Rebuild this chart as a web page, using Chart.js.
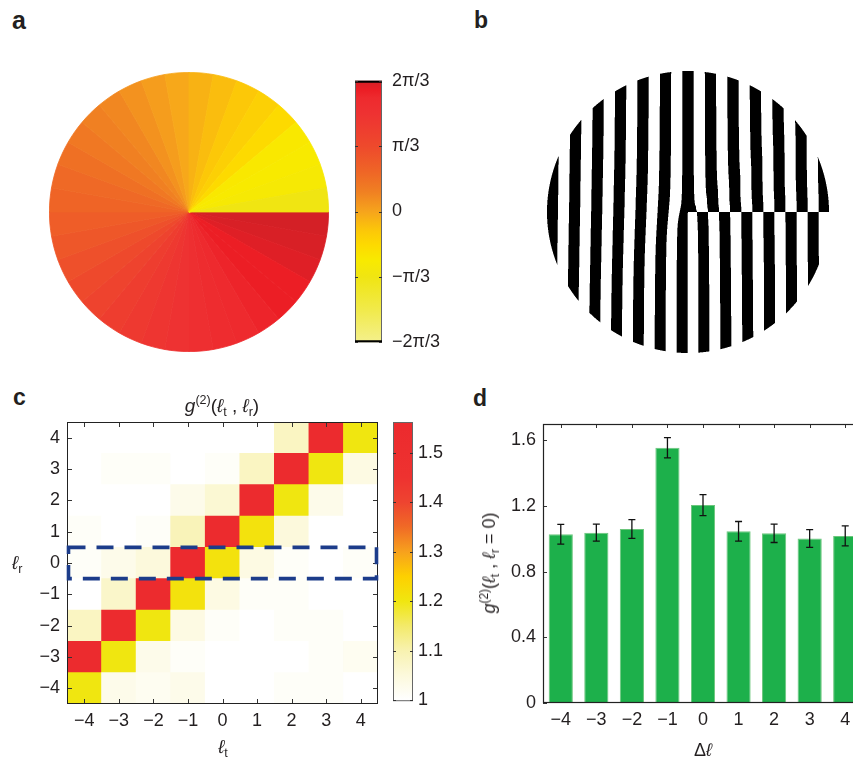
<!DOCTYPE html>
<html><head><meta charset="utf-8">
<script src="https://cdn.jsdelivr.net/npm/chart.js"></script>
<style>
html,body{margin:0;padding:0;background:#fff;width:853px;height:761px;overflow:hidden;position:relative;font-family:"Liberation Sans",Arial,sans-serif;color:#231f20}
.box{position:absolute}
.t{position:absolute;white-space:nowrap;font-size:18px;line-height:1}
.lab{position:absolute;font-weight:bold;font-size:23px;line-height:1}
sub,sup{font-size:66%;line-height:0;position:relative;vertical-align:baseline}
sup{top:-0.6em} sub{top:0.35em}
i{font-style:italic}
</style></head><body>

<div class="lab" style="left:12px;top:7.5px;font-size:25px">a</div>
<div class="lab" style="left:474px;top:9px">b</div>
<div class="lab" style="left:13px;top:386px">c</div>
<div class="lab" style="left:473px;top:387px">d</div>

<div class="box" style="left:49px;top:72px;width:280px;height:280px"><canvas id="pa"></canvas></div>
<div class="box" style="left:355px;top:60px;width:110px;height:303px"><canvas id="cba"></canvas></div>
<div class="box" style="left:547px;top:71px;width:282px;height:282px"><canvas id="pb"></canvas></div>
<div class="box" style="left:0px;top:380px;width:386px;height:360px"><canvas id="pc"></canvas></div>
<div class="box" style="left:393px;top:405px;width:52px;height:312px"><canvas id="cbc"></canvas></div>
<div class="box" style="left:490px;top:395px;width:380px;height:340px"><canvas id="pd"></canvas></div>

<div class="t" style="left:122px;top:396px;width:200px;text-align:center;font-size:19px"><i>g</i><sup>(2)</sup>(<i>ℓ</i><sub>t</sub> , <i>ℓ</i><sub>r</sub>)</div>
<div class="t" style="left:12px;top:553px;font-size:19px"><i>ℓ</i><sub>r</sub></div>
<div class="t" style="left:173px;top:737px;width:100px;text-align:center;font-size:19px"><i>ℓ</i><sub>t</sub></div>
<div class="t" style="left:653px;top:741px;width:100px;text-align:center">Δ<i>ℓ</i></div>
<div class="t" style="left:489px;top:563px;transform:translate(-50%,-50%) rotate(-90deg)"><i>g</i><sup>(2)</sup>(<i>ℓ</i><sub>t</sub> , <i>ℓ</i><sub>r</sub> = 0)</div>

<script>
// ---------------- DATA ----------------
// panel a: phase of each 10° wedge (units of π), counter-clockwise from +x axis
const wedgeSpan = [10,10,10,10,10,10,10,10,10,10,10,10,10,10,10,10,10,10,10,10,10,10,10,10,10,10,10,10,10,10,10,10,10,10,10,10];
const wedgePhase = [-0.333,-0.27,-0.25,-0.24,-0.17,-0.13,-0.10,-0.07,-0.04,-0.01,
                    0.02,0.05,0.08,0.10,0.13,0.16,0.19,0.21,0.24,0.27,
                    0.30,0.34,0.38,0.42,0.45,0.48,0.50,0.53,0.56,0.58,
                    0.60,0.62,0.62,0.645,0.66,0.667];
const phaseTicks = [-2/3,-1/3,0,1/3,2/3];
const phaseTickLabels = ['\u22122\u03c0/3','\u2212\u03c0/3','0','\u03c0/3','2\u03c0/3'];

// panel b: binary grating carrying the phase of panel a (circle radius = 1)
const holoRadius = 1;
const holoPeriod = 0.157;
const holoOffset = 0.025; // units of π

// panel c: g2(lt, lr); rows = lr from -4 to 4, columns = lt from -4 to 4
const lt = [-4,-3,-2,-1,0,1,2,3,4];
const lr = [-4,-3,-2,-1,0,1,2,3,4];
const g2Matrix = [
  [1.20,1.03,1.02,1.03,1.00,1.00,1.01,1.01,1.00],
  [1.55,1.20,1.03,1.01,1.00,1.00,1.00,1.01,1.02],
  [1.08,1.55,1.20,1.04,1.01,1.00,1.01,1.01,1.00],
  [1.00,1.07,1.55,1.21,1.04,1.01,1.01,1.00,1.00],
  [1.01,1.03,1.05,1.56,1.21,1.04,1.01,1.00,1.01],
  [1.01,1.00,1.01,1.09,1.55,1.21,1.05,1.00,1.00],
  [1.00,1.00,1.00,1.03,1.06,1.55,1.20,1.03,1.00],
  [1.00,1.01,1.01,1.00,1.01,1.08,1.55,1.20,1.04],
  [1.00,1.00,1.00,1.00,1.00,1.00,1.08,1.55,1.20]
];
const cbcTicks = [1,1.1,1.2,1.3,1.4,1.5];

// panel d
const dl = [-4,-3,-2,-1,0,1,2,3,4];
const gVal = [1.028,1.038,1.060,1.555,1.206,1.046,1.034,1.002,1.018];
const gErr = [0.060,0.052,0.057,0.062,0.064,0.060,0.056,0.054,0.061];
const dTicks = [0,0.4,0.8,1.2,1.6];

// ---------------- colour maps ----------------
const stopsA = [[-0.667,'#F4F08C'],[-0.5,'#F1EA4A'],[-0.333,'#F0E512'],[-0.25,'#F8EA00'],[-0.17,'#FDDA00'],
  [-0.1,'#FCC808'],[0,'#F6A41C'],[0.1,'#F08022'],[0.2,'#EF6626'],[0.33,'#EE4A2C'],[0.5,'#EE3232'],
  [0.58,'#EE2A2E'],[0.62,'#EC1E25'],[0.667,'#D42026']];
const stopsC = [[1.00,'#FFFFFF'],[1.05,'#FCF9DC'],[1.10,'#F8F2B0'],[1.15,'#F3EA6A'],[1.20,'#F0E610'],
  [1.25,'#FDD000'],[1.30,'#F7A11D'],[1.35,'#F06A26'],[1.40,'#EE4430'],[1.45,'#EE3230'],[1.56,'#EC2A2E']];
function hex2rgb(h){return [parseInt(h.slice(1,3),16),parseInt(h.slice(3,5),16),parseInt(h.slice(5,7),16)];}
function cmap(stops,v){
  if(v<=stops[0][0]) return stops[0][1];
  for(let i=1;i<stops.length;i++){
    if(v<=stops[i][0]){
      const [v0,c0]=stops[i-1],[v1,c1]=stops[i];const t=(v-v0)/(v1-v0);
      const a=hex2rgb(c0),b=hex2rgb(c1);
      return 'rgb('+a.map((x,k)=>Math.round(x+(b[k]-x)*t)).join(',')+')';
    }
  }
  return stops[stops.length-1][1];
}
const minus = v => (v<0 ? '\u2212'+Math.abs(v) : String(v));

Chart.defaults.font.family = '"Liberation Sans", Arial, sans-serif';
Chart.defaults.font.size = 18;
Chart.defaults.color = '#231f20';
const common = {responsive:true, maintainAspectRatio:false, animation:false, events:[],
  plugins:{legend:{display:false}, tooltip:{enabled:false}, title:{display:false}}};

// ---------------- panel a: pie ----------------
const wedgeColors = wedgePhase.map(p=>cmap(stopsA,p));
new Chart(document.getElementById('pa'), {
  type:'pie',
  data:{labels:wedgePhase.map((_,i)=>i).reverse(),
    datasets:[{data:wedgeSpan.slice().reverse(), backgroundColor:wedgeColors.slice().reverse(),
      borderColor:wedgeColors.slice().reverse(), borderWidth:0.8}]},
  options:{...common, rotation:90, layout:{padding:0}}
});

// colorbar helper
function colorbarPlugin(stops, tickVals, endLines){
  return {id:'cbar', beforeDatasetsDraw(chart){
    const {ctx, chartArea:a, scales:{y}} = chart;
    const y0 = y.getPixelForValue(y.min), y1 = y.getPixelForValue(y.max);
    const g = ctx.createLinearGradient(0,y0,0,y1);
    stops.forEach(([v,c])=>{let f=(v-y.min)/(y.max-y.min); f=Math.max(0,Math.min(1,f)); g.addColorStop(f,c);});
    ctx.save();
    ctx.fillStyle=g; ctx.fillRect(a.left,a.top,a.right-a.left,a.bottom-a.top);
    ctx.strokeStyle='#666'; ctx.lineWidth=1;
    ctx.strokeRect(a.left+0.5,a.top+0.5,a.right-a.left-1,a.bottom-a.top-1);
    if(endLines){ctx.strokeStyle='#000';ctx.lineWidth=2;ctx.beginPath();
      ctx.moveTo(a.left,a.top+1);ctx.lineTo(a.right,a.top+1);ctx.moveTo(a.left,a.bottom-1);ctx.lineTo(a.right,a.bottom-1);ctx.stroke();}
    ctx.strokeStyle='#333'; ctx.lineWidth=1; ctx.beginPath();
    tickVals.forEach(v=>{const py=Math.round(y.getPixelForValue(v))+0.5;
      ctx.moveTo(a.left,py);ctx.lineTo(a.left+3,py);ctx.moveTo(a.right,py);ctx.lineTo(a.right-3,py);});
    ctx.stroke(); ctx.restore();
  }};
}

new Chart(document.getElementById('cba'), {
  type:'scatter', data:{datasets:[]},
  options:{...common, layout:{padding:{top:17,bottom:15,left:0,right:0}},
    scales:{
      x:{display:false,min:0,max:1},
      y:{position:'right',min:-2/3,max:2/3,
        afterBuildTicks:s=>{s.ticks=phaseTicks.map(v=>({value:v}));},
        afterFit:s=>{s.width=83;},
        ticks:{padding:10,callback:(v,i)=>phaseTickLabels[i]},
        grid:{display:false,drawTicks:false},border:{display:false}}
    }},
  plugins:[colorbarPlugin(stopsA, phaseTicks, true)]
});

// ---------------- panel b: grating with the phase of panel a ----------------
function wedgePhaseAt(phiDeg){ // smooth phase (units of π) from the wedge values
  const n=wedgePhase.length, w=360/n, pos=phiDeg/w-0.5;
  if(pos<=0) return wedgePhase[0];
  if(pos>=n-1) return wedgePhase[n-1];
  const i=Math.floor(pos), t=pos-i;
  return wedgePhase[i]+(wedgePhase[i+1]-wedgePhase[i])*t;
}
const holoPlugin = {id:'holo', beforeDatasetsDraw(chart){
  const {ctx, chartArea:a, scales:{x,y}} = chart;
  const W=Math.ceil(a.right-a.left), H=Math.ceil(a.bottom-a.top);
  const off=document.createElement('canvas'); off.width=W; off.height=H;
  const octx=off.getContext('2d'); const img=octx.createImageData(W,H); const S=3;
  for(let j=0;j<H;j++) for(let i=0;i<W;i++){
    let blk=0;
    for(let sj=0;sj<S;sj++) for(let si=0;si<S;si++){
      const X=x.getValueForPixel(a.left+i+(si+0.5)/S), Y=y.getValueForPixel(a.top+j+(sj+0.5)/S);
      if(X*X+Y*Y>holoRadius*holoRadius) continue;
      let phi=Math.atan2(Y,X)*180/Math.PI; if(phi<0) phi+=360;
      const ph=2*Math.PI*X/holoPeriod+Math.PI*(wedgePhaseAt(phi)+holoOffset);
      if(Math.cos(ph)>0) blk++;
    }
    const k=(j*W+i)*4, val=Math.round(255*(1-blk/(S*S)));
    img.data[k]=img.data[k+1]=img.data[k+2]=val; img.data[k+3]=255;
  }
  octx.putImageData(img,0,0); ctx.drawImage(off,a.left,a.top);
}};
new Chart(document.getElementById('pb'), {
  type:'scatter', data:{datasets:[]},
  options:{...common, layout:{padding:0}, scales:{x:{display:false,min:-1,max:1},y:{display:false,min:-1,max:1}}},
  plugins:[holoPlugin]
});

// ---------------- panel c: heatmap ----------------
const heatFrame = {id:'heatFrame', afterDatasetsDraw(chart){
  const {ctx, chartArea:a, scales:{x,y}} = chart;
  ctx.save(); ctx.strokeStyle='#333'; ctx.lineWidth=1; ctx.beginPath();
  lt.forEach((_,i)=>{const px=Math.round(x.getPixelForValue(i))+0.5;
    ctx.moveTo(px,a.bottom);ctx.lineTo(px,a.bottom-5);ctx.moveTo(px,a.top);ctx.lineTo(px,a.top+5);});
  lr.forEach(v=>{const py=Math.round(y.getPixelForValue(v))+0.5;
    ctx.moveTo(a.left,py);ctx.lineTo(a.left+5,py);ctx.moveTo(a.right,py);ctx.lineTo(a.right-5,py);});
  ctx.stroke();
  ctx.strokeStyle='#222'; ctx.strokeRect(a.left+0.5,a.top+0.5,a.right-a.left-1,a.bottom-a.top-1);
  // dashed selection box around lr = 0
  const yt=y.getPixelForValue(0.5), yb=y.getPixelForValue(-0.5);
  ctx.strokeStyle='#1C3C8A'; ctx.lineWidth=3.6; ctx.setLineDash([17,11]);
  ctx.strokeRect(a.left+1.5, yt, a.right-a.left-3, yb-yt);
  ctx.restore();
}};
new Chart(document.getElementById('pc'), {
  type:'bar',
  data:{labels:lt.map(minus),
    datasets:lr.map((r,ri)=>({data:lt.map(()=>[r-0.5,r+0.5]),
      backgroundColor:g2Matrix[ri].map(v=>cmap(stopsC,v)), borderWidth:0,
      grouped:false, barPercentage:1, categoryPercentage:1}))},
  options:{...common, layout:{padding:{top:42,bottom:6,left:0,right:8}},
    scales:{
      x:{offset:true,grid:{display:false,drawTicks:false},border:{display:false},
        ticks:{padding:6,maxRotation:0,autoSkip:false},afterFit:s=>{s.height=30;}},
      y:{min:-4.5,max:4.5,afterBuildTicks:s=>{s.ticks=lr.map(v=>({value:v}));},
        ticks:{padding:7,callback:v=>minus(v)},grid:{display:false,drawTicks:false},border:{display:false},
        afterFit:s=>{s.width=67;}}
    }},
  plugins:[heatFrame]
});

new Chart(document.getElementById('cbc'), {
  type:'scatter', data:{datasets:[]},
  options:{...common, layout:{padding:{top:17,bottom:13,left:0,right:0}},
    scales:{
      x:{display:false,min:0,max:1},
      y:{position:'right',min:0.998,max:1.562,
        afterBuildTicks:s=>{s.ticks=cbcTicks.map(v=>({value:v}));},
        afterFit:s=>{s.width=32;},
        ticks:{padding:5,callback:v=>(v===1?'1':v.toFixed(1))},
        grid:{display:false,drawTicks:false},border:{display:false}}
    }},
  plugins:[colorbarPlugin(stopsC, cbcTicks, false)]
});

// ---------------- panel d: bars with error bars ----------------
const errPlugin = {id:'err', afterDatasetsDraw(chart){
  const {ctx, chartArea:a, scales:{x,y}} = chart;
  ctx.save(); ctx.strokeStyle='#111'; ctx.lineWidth=1.3; ctx.beginPath();
  gVal.forEach((v,i)=>{const px=x.getPixelForValue(i), yt=y.getPixelForValue(v+gErr[i]), yb=y.getPixelForValue(v-gErr[i]);
    ctx.moveTo(px,yt);ctx.lineTo(px,yb);ctx.moveTo(px-3.5,yt);ctx.lineTo(px+3.5,yt);ctx.moveTo(px-3.5,yb);ctx.lineTo(px+3.5,yb);});
  ctx.stroke();
  ctx.strokeStyle='#333'; ctx.lineWidth=1; ctx.beginPath();
  dl.forEach((_,i)=>{const px=Math.round(x.getPixelForValue(i))+0.5; ctx.moveTo(px,a.top);ctx.lineTo(px,a.top+4);});
  dTicks.forEach(v=>{const py=Math.round(y.getPixelForValue(v))+0.5; ctx.moveTo(a.left,py);ctx.lineTo(a.left+4,py);});
  ctx.stroke();
  ctx.strokeStyle='#222'; ctx.lineWidth=1.2;
  ctx.strokeRect(a.left+0.5,a.top+0.5,a.right-a.left-1,a.bottom-a.top-1);
  ctx.restore();
}};
new Chart(document.getElementById('pd'), {
  type:'bar',
  data:{labels:dl.map(minus),
    datasets:[{data:gVal, backgroundColor:'#1DB04B', borderColor:'#6CC67C', borderWidth:1,
      barPercentage:0.68, categoryPercentage:1}]},
  options:{...common, layout:{padding:{top:29,bottom:2,left:0,right:7}},
    scales:{
      x:{offset:true,grid:{display:false,drawTicks:false},border:{display:false},
        ticks:{padding:6,maxRotation:0,autoSkip:false},afterFit:s=>{s.height=30;}},
      y:{min:0,max:1.7,afterBuildTicks:s=>{s.ticks=dTicks.map(v=>({value:v}));},
        ticks:{padding:7,callback:v=>(v===0?'0':v.toFixed(1))},grid:{display:false,drawTicks:false},border:{display:false},
        afterFit:s=>{s.width=53;}}
    }},
  plugins:[errPlugin]
});
</script>
</body></html>
